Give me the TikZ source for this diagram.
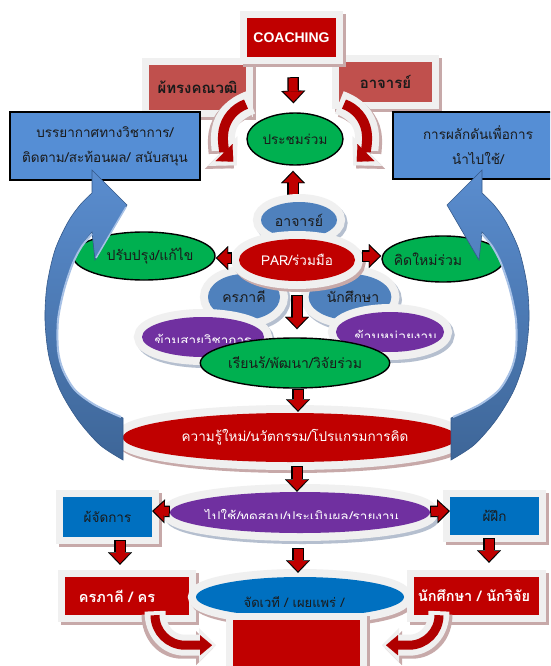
\documentclass[tikz,border=0pt]{standalone}
\usepackage{fontspec}
\newfontfamily\thai[Script=Thai]{Loma}
\newfontfamily\arialf{Liberation Sans}
\usetikzlibrary{arrows.meta,calc,shapes.geometric}
\definecolor{redD}{HTML}{C00000}
\definecolor{redL}{HTML}{C0504D}
\definecolor{redA}{HTML}{B00000}
\definecolor{grn}{HTML}{00B050}
\definecolor{bluebox}{HTML}{558ED5}
\definecolor{blueel}{HTML}{4F81BD}
\definecolor{purp}{HTML}{7030A0}
\definecolor{blueb}{HTML}{0070C0}
\definecolor{haloc}{HTML}{F0F0F0}
\definecolor{shR}{HTML}{C7A9A9}
\definecolor{shB}{HTML}{B5BFCF}
\definecolor{txt}{HTML}{1A1A1A}
\definecolor{arrT}{HTML}{5A8DCF}
\definecolor{arrB}{HTML}{3E6698}
\definecolor{arrE}{HTML}{34598A}
\definecolor{arrH}{HTML}{A7C1E6}
\pgfdeclarelayer{back}
\pgfsetlayers{back,main}
\tikzset{
  glow/.style 2 args={preaction={draw=#1, line width=#2, transform canvas={xshift=2.5pt,yshift=-3pt}},
                      preaction={draw=haloc, line width=#2}},
  rbox/.style={rectangle, inner sep=0pt, fill=redL, text=txt, glow={shR}{14pt},
               font=\thai\bfseries\fontsize{15}{17}\selectfont},
  cbox/.style={rectangle, inner sep=0pt, fill=redD, text=white, glow={shR}{14pt},
               font=\arialf\bfseries\fontsize{14}{16}\selectfont},
  bbox/.style={rectangle, inner sep=0pt, fill=bluebox, draw=black, line width=1.3pt, align=center,
               text=txt, font=\thai\fontsize{13.5}{16}\selectfont},
  gell/.style={ellipse, inner sep=0pt, fill=grn, draw=black, line width=1.4pt, text=txt,
               font=\thai\fontsize{14}{16}\selectfont},
  bell/.style={ellipse, inner sep=0pt, fill=blueel, glow={shB}{16pt}, text=txt,
               font=\thai\fontsize{14}{16}\selectfont},
  pell/.style={ellipse, inner sep=0pt, fill=purp, glow={shB}{16pt}},
  rell/.style={ellipse, inner sep=0pt, fill=redD, glow={shR}{16pt}, text=white,
               font=\thai\fontsize{13.5}{16}\selectfont},
  bbox2/.style={rectangle, inner sep=0pt, fill=blueb, glow={shR}{14pt}, text=txt,
               font=\thai\fontsize{13.5}{16}\selectfont},
  rbox2/.style={rectangle, inner sep=0pt, fill=redD, glow={shR}{14pt}, text=white,
               font=\thai\bfseries\fontsize{14.5}{16}\selectfont},
  bell2/.style={ellipse, inner sep=0pt, fill=blueb, glow={shR}{16pt}},
  wtext/.style={anchor=base, inner sep=0pt, text=white, font=\thai\fontsize{13.5}{16}\selectfont},
  dtext/.style={anchor=base, inner sep=0pt, text=txt, font=\thai\fontsize{13}{15}\selectfont},
  barrow/.style={draw=black, line width=11.5pt, -{Triangle[width=24pt,length=12.5pt,line width=0.1pt]},
    postaction={draw=redD, line width=9pt, shorten >=1.7pt, shorten <=1pt,
      -{Triangle[width=19.5pt,length=10pt,line width=0.1pt]}}},
  rcurve/.style={draw=redA, line width=10pt, -{Triangle[width=24pt,length=13pt,line width=0.1pt]},
    preaction={draw=shR, line width=24pt, shorten <=-5pt, shorten >=-5pt,
      -{Triangle[width=42pt,length=20pt,line width=0.1pt]}, transform canvas={xshift=#1pt,yshift=-3pt}},
    preaction={draw=haloc, line width=24pt, shorten <=-5pt, shorten >=-5pt,
      -{Triangle[width=42pt,length=20pt,line width=0.1pt]}}},
  rcurvesm/.style={draw=redA, line width=9pt, -{Triangle[width=20pt,length=12pt,line width=0.1pt]},
    preaction={draw=shR, line width=21pt, shorten <=-4pt, shorten >=-4pt,
      -{Triangle[width=34pt,length=17pt,line width=0.1pt]}, transform canvas={xshift=#1pt,yshift=-3pt}},
    preaction={draw=haloc, line width=21pt, shorten <=-4pt, shorten >=-4pt,
      -{Triangle[width=34pt,length=17pt,line width=0.1pt]}}},
  bigarrow/.style={top color=arrT, bottom color=arrB, draw=arrE, line width=0.6pt},
}
\begin{document}
\begin{tikzpicture}[x=1pt,y=-1pt]
\useasboundingbox (0,0) rectangle (550,666);
\clip (0,0) rectangle (550,666);
\begin{pgfonlayer}{back}
\fill[white] (0,0) rectangle (550,666);
\end{pgfonlayer}

% ---- top boxes
\node[rbox, minimum width=97pt, minimum height=45pt] (expert) at (197.5,87.5) {ผ้ทรงคณวฒิ};
\node[rbox, minimum width=93pt, minimum height=40pt] (teacher) at (385.5,82) {อาจารย์};
\node[cbox, minimum width=89pt, minimum height=39pt] (coach) at (291.5,37.5) {COACHING};

% ---- blue rectangles
\node[bbox, minimum width=190pt, minimum height=68pt] (climate) at (105,146)
  {บรรยากาศทางวิชาการ/\\[9pt]ติดตาม/สะท้อนผล/ สนับสนุน};
\node[bbox, minimum width=170pt, minimum height=67pt] (push) at (478,145.5)
  {การผลักดันเพื่อการ\\[9pt]นำไปใช้/};

% ---- curved red arrows round the meeting
\coordinate (mc) at (295,139);
\draw[rcurve=-3] ($(mc)+(-37,-2)$) ++(250:35) arc[start angle=250, end angle=135, radius=35];
\draw[rcurve=3] ($(mc)+(37,-2)$) ++(290:35) arc[start angle=290, end angle=405, radius=35];

\node[gell, minimum width=96pt, minimum height=52pt, font=\thai\fontsize{13.5}{16}\selectfont] (meet) at (mc) {ประชมร่วม};
\draw[barrow] ($(coach.south)+(1.5,20)$) -- ($(meet.north)+(-1.5,-9)$);

% ---- middle cluster
\node[bell, minimum width=76pt, minimum height=36pt] (ajarn) at (299,220) {\raisebox{-2pt}{อาจารย์}};
\node[bell, minimum width=72pt, minimum height=46pt] (kru) at (244,297) {\raisebox{-3pt}{ครภาคี}};
\node[bell, minimum width=70pt, minimum height=46pt] (stud) at (350,297) {\raisebox{-5pt}{\hspace*{6pt}นักศึกษา}};
\node[pell, minimum width=122pt, minimum height=40pt] (cross1) at (203,337) {};
\node[pell, minimum width=108pt, minimum height=40pt] (cross2) at (390,332) {};
\begin{scope}
  \clip (140,310) rectangle (266,342);
  \node[wtext] (cross1t) at (203,345) {ข้ามสายวิชาการ};
\end{scope}
\begin{scope}
  \clip (336,305) rectangle (444,337.5);
  \node[wtext] (cross2t) at (396,341) {ข้ามหน่วยงาน};
\end{scope}
\node[rell, minimum width=116pt, minimum height=42pt] (par) at (297,260) {PAR/ร่วมมือ};

\begin{pgfonlayer}{back}
\draw[barrow] ($(ajarn.north)+(-6,0)$) -- ($(meet.south)+(-2,5)$);
\end{pgfonlayer}

\node[gell, minimum width=142pt, minimum height=48pt] (improve) at (144,256) {\hspace*{12pt}ปรับปรุง/แก้ไข};
\node[gell, minimum width=122pt, minimum height=46pt] (think) at (443,259) {\hspace*{-30pt}คิดใหม่ร่วม};
\node[gell, minimum width=184pt, minimum height=50pt] (learn) at (295,363) {เรียนร้/พัฒนา/วิจัยร่วม};

\draw[barrow] ($(par.west)+(-7,-2)$) -- ($(improve.east)+(0,2)$);
\draw[barrow] ($(par.east)+(7,-4)$) -- ($(think.west)+(0,-3)$);
\draw[barrow] ($(par.south)+(0,14)$) -- ($(learn.north)+(2,-8)$);

% ---- new knowledge
\node[rell, minimum width=322pt, minimum height=49pt] (know) at (290,437.5)
  {\hspace*{10pt}ความรู้ใหม่/นวัตกรรม/โปรแกรมการคิด};
\draw[barrow] ($(learn.south)+(3,0)$) -- ($(know.north)+(8,-1)$);

% ---- big blue curved arrows
\shade[bigarrow] plot[smooth] coordinates {(123,460) (100,445) (78,420) (60,390) (49,357) (45,320) (47,285) (55,250) (68,222) (80,205) (92,193)}
  -- (92,170) -- (127,205) -- (95,260) -- (92,232)
  -- plot[smooth] coordinates {(92,232) (82,245) (73,262) (64,290) (58,320) (58,350) (63,370) (75,390) (95,405) (123,418)} -- cycle;
\draw[arrH, line width=2pt] plot[smooth] coordinates {(92,234) (82,246) (73,263) (64,290) (58,320) (58,350) (63,370) (75,390) (95,405) (121,417)};
\draw[arrH, line width=1.5pt] (126,207) -- (96,258);
\shade[bigarrow] plot[smooth] coordinates {(451,460) (474,445) (496,420) (514,390) (525,357) (529,320) (527,285) (519,250) (506,222) (494,205) (482,193)}
  -- (482,170) -- (447,205) -- (479,260) -- (482,232)
  -- plot[smooth] coordinates {(482,232) (492,245) (501,262) (510,290) (516,320) (516,350) (511,370) (499,390) (479,405) (451,418)} -- cycle;
\draw[arrH, line width=2pt] plot[smooth] coordinates {(482,234) (492,246) (501,263) (510,290) (516,320) (516,350) (511,370) (499,390) (479,405) (453,417)};

% ---- use / test
\node[pell, minimum width=260pt, minimum height=41pt] (use) at (300,512.5) {};
\begin{scope}
  \clip (170,495) rectangle (430,518.5);
  \node[wtext] (uset) at (302,521) {ไปใช้/ทดสอบ/ประเมินผล/รายงาน};
\end{scope}
\draw[barrow] ($(know.south)+(7,4)$) -- ($(use.north)+(-3,0)$);

\node[bbox2, minimum width=89pt, minimum height=40pt] (mgr) at (107.5,517) {ผ้จัดการ};
\node[bbox2, minimum width=89pt, minimum height=38pt] (trainer) at (494.5,516) {ผ้ฝึก};
\draw[barrow] ($(use.west)+(0,-1)$) -- ($(mgr.east)+(0,-6)$);
\draw[barrow] ($(use.east)+(0,-1)$) -- ($(trainer.west)+(0,-5)$);

% ---- bottom row
\node[rbox2, minimum width=124pt, minimum height=38pt] (krubox) at (127,596) {\hspace*{-20pt}ครภาคี / คร};
\node[bell2, minimum width=208pt, minimum height=40pt] (diss) at (300,597) {};
\begin{scope}
  \clip (200,580) rectangle (400,606);
  \node[dtext] (disst) at (294,607) {จัดเวที / เผยแพร่ /};
\end{scope}
\node[rbox2, minimum width=125pt, minimum height=38pt] (studbox) at (476.5,596) {\hspace*{-5pt}นักศึกษา / นักวิจัย};

\draw[barrow] ($(mgr.south)+(12.5,3)$) -- ($(krubox.north)+(-7,-12)$);
\draw[barrow] ($(use.south)+(-2,15)$) -- ($(diss.north)+(-2,-4)$);
\draw[barrow] ($(trainer.south)+(-5.5,3)$) -- ($(studbox.north)+(12.5,-14)$);

\draw[rcurvesm=-3] ($(krubox.south)+(58,0)$) ++(180:30) arc[start angle=180, end angle=90, radius=30] -- ++(27,0);
\draw[rcurvesm=3] ($(studbox.south)+(-67.5,0)$) ++(0:30) arc[start angle=0, end angle=90, radius=30] -- ++(-23,0);

\node[rbox2, minimum width=127pt, minimum height=55pt] (out) at (296.5,647.5) {};
\end{tikzpicture}
\end{document}
